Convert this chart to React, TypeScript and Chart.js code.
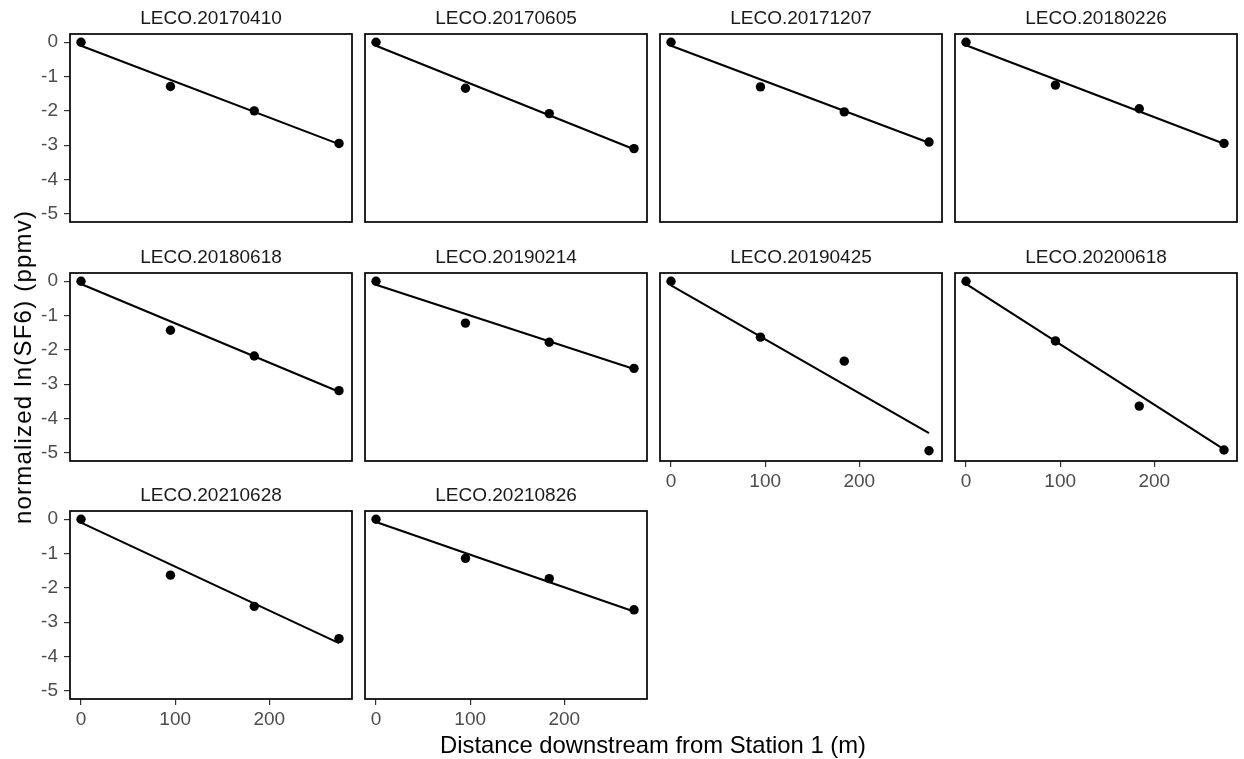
import React, { useEffect, useRef } from 'react';
import { Chart, registerables } from 'chart.js';

Chart.register(...registerables);

// ---------------- data ----------------
const PANEL_NAMES = [
  'LECO.20170410', 'LECO.20170605', 'LECO.20171207', 'LECO.20180226',
  'LECO.20180618', 'LECO.20190214', 'LECO.20190425', 'LECO.20200618',
  'LECO.20210628', 'LECO.20210826',
];

const DISTANCES = [0, 95, 184, 274];

const LECO_20170410 = [0, -1.29, -2.0, -2.95];
const LECO_20170605 = [0, -1.34, -2.08, -3.1];
const LECO_20171207 = [0, -1.3, -2.03, -2.91];
const LECO_20180226 = [0, -1.25, -1.94, -2.95];
const LECO_20180618 = [0, -1.43, -2.18, -3.19];
const LECO_20190214 = [0, -1.22, -1.78, -2.54];
const LECO_20190425 = [0, -1.63, -2.33, -4.94];
const LECO_20200618 = [0, -1.74, -3.64, -4.92];
const LECO_20210628 = [0, -1.63, -2.54, -3.48];
const LECO_20210826 = [0, -1.14, -1.73, -2.64];

const SERIES = [
  LECO_20170410, LECO_20170605, LECO_20171207, LECO_20180226, LECO_20180618,
  LECO_20190214, LECO_20190425, LECO_20200618, LECO_20210628, LECO_20210826,
];

// fitted line: value at first and last distance
const FIT_START = [-0.1, -0.1, -0.1, -0.09, -0.08, -0.1, -0.12, -0.08, -0.1, -0.08];
const FIT_END = [-2.97, -3.12, -2.93, -2.96, -3.22, -2.56, -4.43, -4.9, -3.61, -2.69];

const X_TICKS = [0, 100, 200];
const Y_TICKS = [0, -1, -2, -3, -4, -5];

const X_TITLE = 'Distance downstream from Station 1 (m)';
const Y_TITLE = 'normalized ln(SF6) (ppmv)';

// ---------------- layout ----------------
const COL_LEFT = [70, 365, 660, 955];
const ROW_TOP = [34, 273, 511];
const PANEL_W = 282;
const PANEL_H = 188;
const PAD_L = 70;
const PAD_T = 34;
const PAD_R = 8;
const PAD_B = 45;

const FONT = '"Liberation Sans", Arial, Helvetica, sans-serif';

const framePlugin = {
  id: 'frame',
  afterDraw(chart: any) {
    const { ctx, chartArea } = chart;
    ctx.save();
    ctx.strokeStyle = '#000';
    ctx.lineWidth = 1.7;
    ctx.strokeRect(chartArea.left, chartArea.top, chartArea.right - chartArea.left, chartArea.bottom - chartArea.top);
    ctx.restore();
  },
};

const stripPlugin = {
  id: 'strip',
  afterDraw(chart: any, _args: any, opts: any) {
    const { ctx, chartArea } = chart;
    ctx.save();
    ctx.fillStyle = '#1a1a1a';
    ctx.font = `19px ${FONT}`;
    ctx.textAlign = 'center';
    ctx.textBaseline = 'middle';
    ctx.fillText(opts.text, (chartArea.left + chartArea.right) / 2, chartArea.top - 15.5);
    ctx.restore();
  },
};

function Panel({ idx }: { idx: number }) {
  const ref = useRef<HTMLCanvasElement>(null);
  const col = idx % 4;
  const row = Math.floor(idx / 4);
  const showY = col === 0;
  const showX = idx >= 6;
  const width = PAD_L + PANEL_W + PAD_R;
  const height = PAD_T + PANEL_H + PAD_B;

  useEffect(() => {
    if (!ref.current) return;
    const values = SERIES[idx];
    const chart = new Chart(ref.current, {
      type: 'scatter',
      data: {
        datasets: [
          {
            type: 'line',
            data: [
              { x: DISTANCES[0], y: FIT_START[idx] },
              { x: DISTANCES[DISTANCES.length - 1], y: FIT_END[idx] },
            ],
            borderColor: '#000',
            borderWidth: 2.1,
            pointRadius: 0,
            fill: false,
            tension: 0,
            order: 0,
          } as any,
          {
            type: 'scatter',
            data: DISTANCES.map((x, j) => ({ x, y: values[j] })),
            backgroundColor: '#000',
            borderColor: '#000',
            borderWidth: 0,
            pointRadius: 4.7,
            order: 1,
          } as any,
        ],
      },
      options: {
        responsive: false,
        animation: false,
        events: [],
        layout: { padding: { top: PAD_T, right: PAD_R, left: 0, bottom: 0 }, autoPadding: false } as any,
        plugins: {
          legend: { display: false },
          tooltip: { enabled: false },
          title: { display: false },
          strip: { text: PANEL_NAMES[idx] },
        } as any,
        scales: {
          x: {
            type: 'linear',
            min: -11.7,
            max: 287.8,
            afterBuildTicks: (s: any) => { s.ticks = X_TICKS.map((v) => ({ value: v })); },
            afterFit: (s: any) => { s.height = PAD_B; },
            border: { display: false },
            grid: { display: showX, drawOnChartArea: false, drawTicks: true, tickLength: 6, color: '#333', lineWidth: 1.2 },
            ticks: {
              display: showX,
              color: '#4d4d4d',
              font: { family: FONT, size: 19 },
              padding: 3,
              maxRotation: 0,
              autoSkip: false,
            },
          },
          y: {
            type: 'linear',
            min: -5.24,
            max: 0.24,
            afterBuildTicks: (s: any) => { s.ticks = Y_TICKS.map((v) => ({ value: v })); },
            afterFit: (s: any) => { s.width = PAD_L; },
            border: { display: false },
            grid: { display: showY, drawOnChartArea: false, drawTicks: true, tickLength: 6, color: '#333', lineWidth: 1.2 },
            ticks: {
              display: showY,
              color: '#4d4d4d',
              font: { family: FONT, size: 19 },
              padding: 6,
              autoSkip: false,
            },
          },
        },
      },
      plugins: [framePlugin, stripPlugin],
    });
    return () => chart.destroy();
  }, [idx]);

  return (
    <canvas
      ref={ref}
      width={width}
      height={height}
      style={{
        position: 'absolute',
        left: COL_LEFT[col] - PAD_L,
        top: ROW_TOP[row] - PAD_T,
        width,
        height,
      }}
    />
  );
}

export default function App() {
  return (
    <div style={{ position: 'absolute', left: 0, top: 0, width: 1244, height: 759, background: '#fff', overflow: 'hidden' }}>
      {PANEL_NAMES.map((_, i) => (
        <Panel key={i} idx={i} />
      ))}
      <div
        style={{
          position: 'absolute',
          left: 653,
          top: 745,
          transform: 'translate(-50%, -50%)',
          fontFamily: FONT,
          fontSize: 23.8,
          color: '#000',
          whiteSpace: 'nowrap',
        }}
      >
        {X_TITLE}
      </div>
      <div
        style={{
          position: 'absolute',
          left: 23,
          top: 367,
          transform: 'translate(-50%, -50%) rotate(-90deg)',
          fontFamily: FONT,
          fontSize: 24,
          letterSpacing: 1.2,
          color: '#000',
          whiteSpace: 'nowrap',
        }}
      >
        {Y_TITLE}
      </div>
    </div>
  );
}
